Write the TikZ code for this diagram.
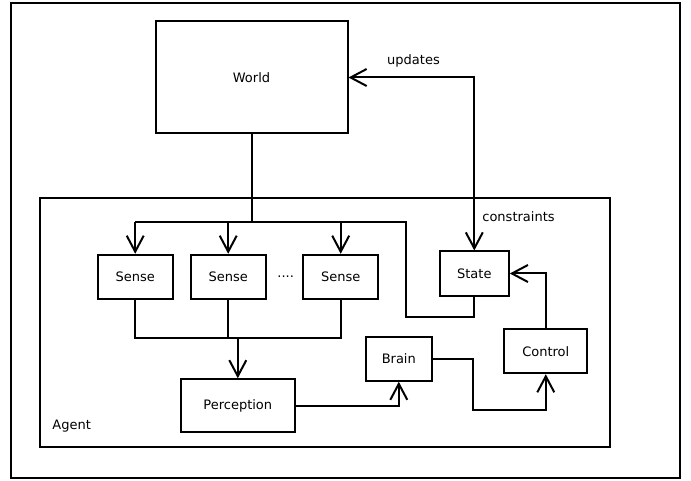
\documentclass[tikz,border=0pt]{standalone}
\usepackage{fontspec}
\setmainfont{DejaVu Sans}
\usetikzlibrary{arrows.meta}
\begin{document}
\begin{tikzpicture}[x=1pt,y=-1pt,line width=2pt,
    >={Straight Barb[length=16pt,width=17pt]},
    box/.style={draw,inner sep=0pt,minimum height=44pt},
    every node/.style={font=\fontsize{13}{15}\selectfont}]
            \useasboundingbox (0,0) rectangle (691,481);
            \draw (11,3.5) rectangle (680,478.3);
            \node [box,minimum width=570pt,minimum height=248.4pt] (agent) at (325,322.5) {};
            \node [anchor=base] (agentlabel) at (71.7,429.5) {Agent};
            % boxes
            \node [box,minimum width=192pt,minimum height=112pt] (world) at (251.5,77.5) {World};
            \node [box,minimum width=75pt] (sense1) at (135.2,276.8) {Sense};
            \node [box,minimum width=75pt] (sense2) at (228.2,276.8) {Sense};
            \node [box,minimum width=75pt] (sense3) at (340.7,276.8) {Sense};
            \node (dots) at (285.7,277) {....};
            \node [box,minimum width=69pt] (state) at (474.3,273.5) {State};
            \node [box,minimum width=114pt,minimum height=52.4pt] (perception) at (237.8,405.5) {Perception};
            \node [box,minimum width=66pt,minimum height=43.4pt] (brain) at (398.8,359) {Brain};
            \node [box,minimum width=83pt] (control) at (545.8,351.2) {Control};
            \coordinate (bus) at (135.2,222.3);
            \coordinate (loop) at (406,316.7);
            \coordinate (merge) at (237.8,338.3);
            \coordinate (bend) at (473.3,410);
            % connectors
            \draw [<->] (world.east) -| (state.north);
            \node [anchor=base] (updates) at (413.5,64.5) {updates};
            \node [anchor=base] (constraints) at (518.5,221.7) {constraints};
            \draw (world.south) -- (world.south |- bus);
            \draw (state.south) |- (loop) |- (bus);
            \foreach \s in {sense1,sense2,sense3}
                \draw [->] (\s.north |- bus) -- (\s.north);
            \draw (sense1.south) |- (merge -| sense3.south) -- (sense3.south);
            \draw (sense2.south) -- (sense2.south |- merge);
            \draw [->] (merge) -- (perception.north);
            \draw [->] (perception.east) -| (brain.south);
            \draw [->] (brain.east) -| (bend) -| (control.south);
            \draw [->] (control.north) |- (state.east);
        \end{tikzpicture}
\end{document}
